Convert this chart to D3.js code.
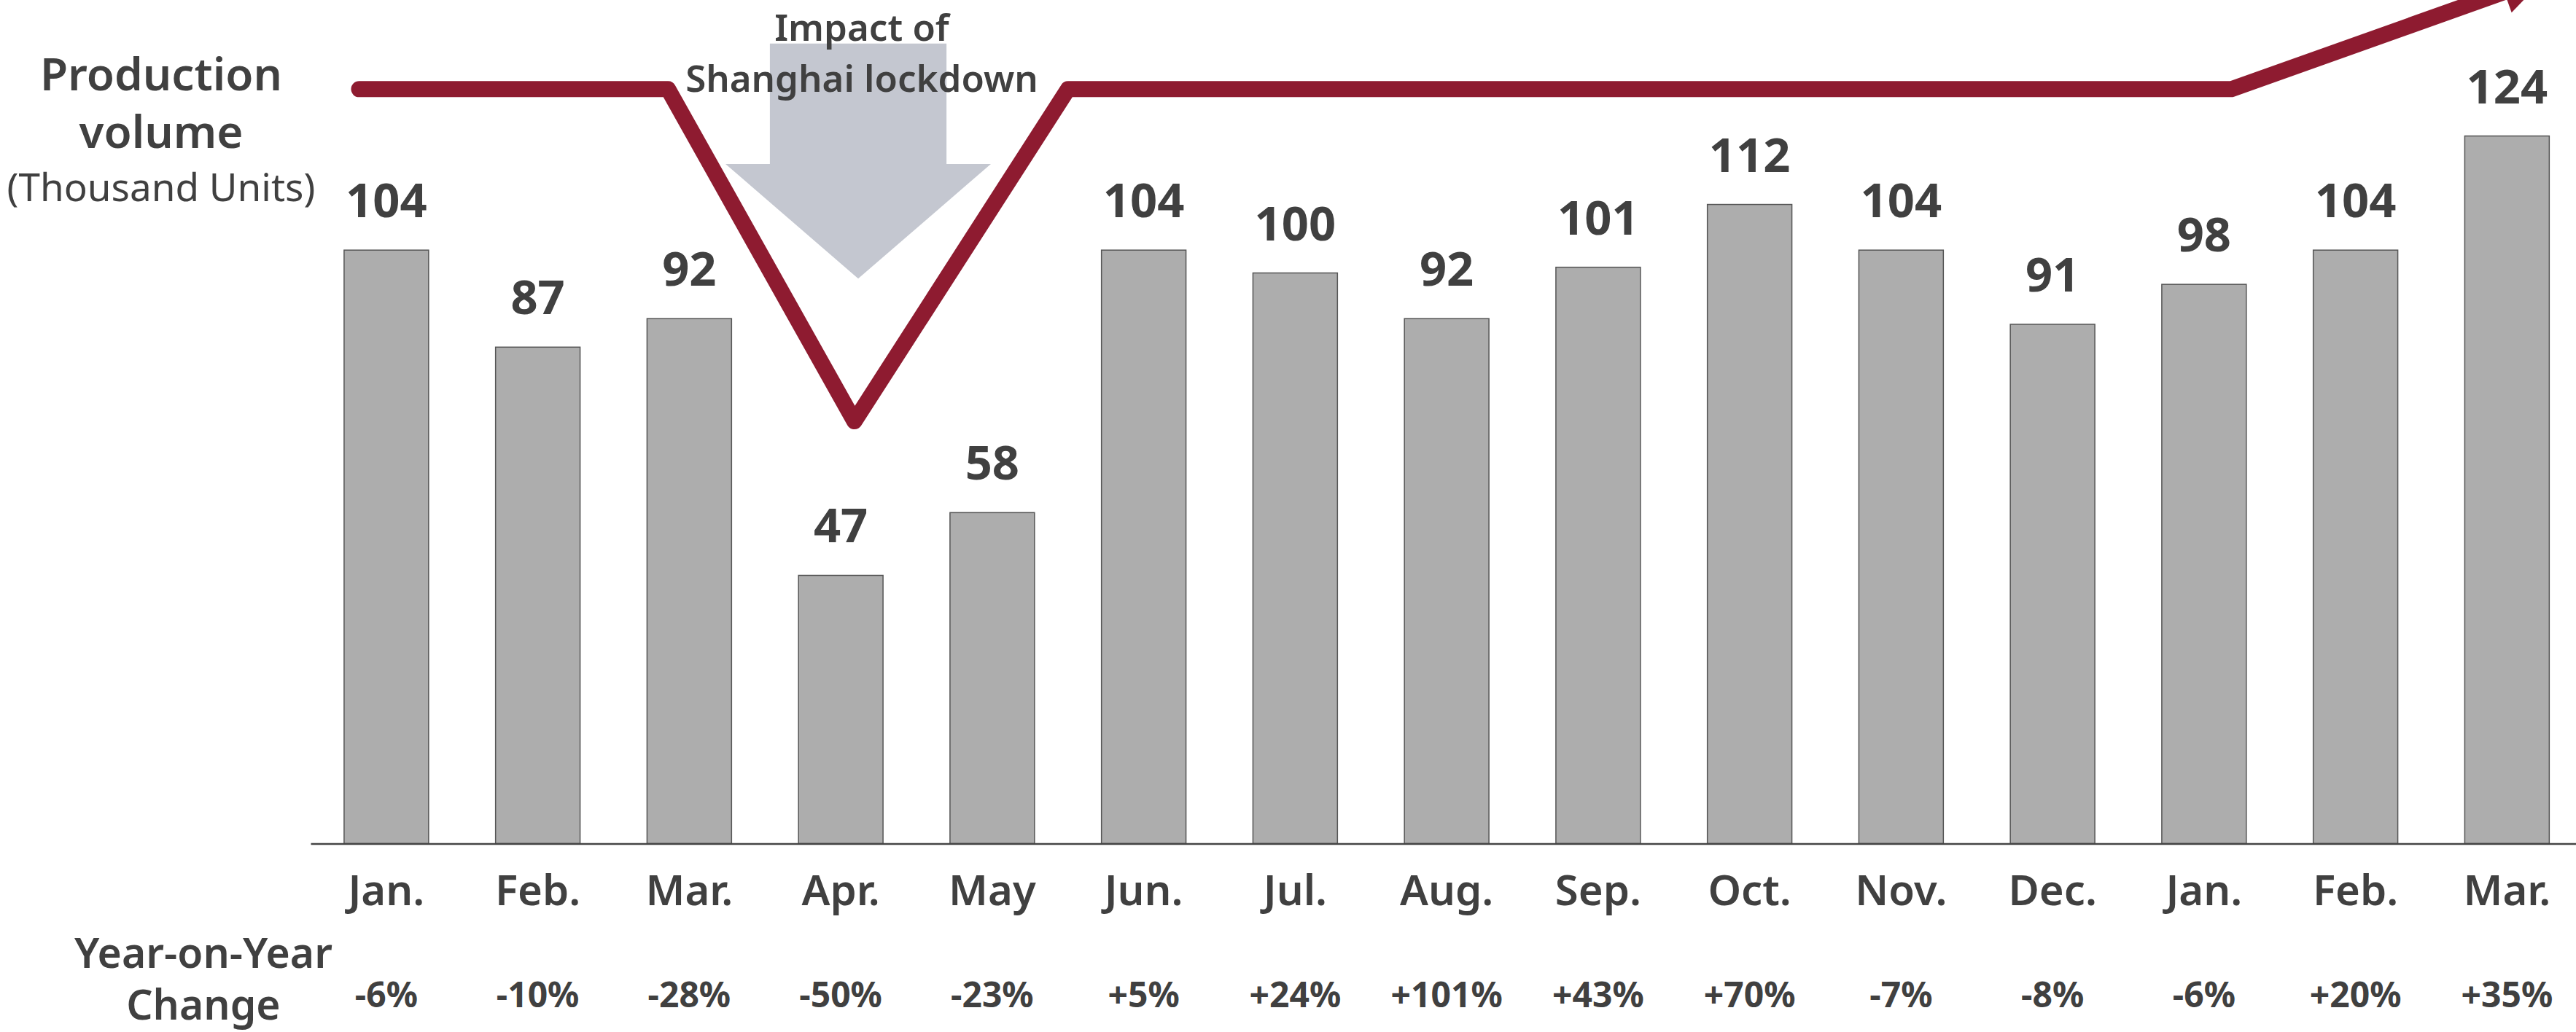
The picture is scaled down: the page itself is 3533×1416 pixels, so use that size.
<!DOCTYPE html>
<html><head><meta charset="utf-8">
<script src="https://cdn.jsdelivr.net/npm/d3@7"></script>
<style>
html,body{margin:0;padding:0;background:#fff;}
svg{display:block;}
text{font-family:"Noto Sans","Open Sans",sans-serif;fill:#404040;}
</style></head>
<body>
<svg id="chart" width="3533" height="1416"></svg>
<script>
// ---- data ----
const months = ["Jan.","Feb.","Mar.","Apr.","May","Jun.","Jul.","Aug.","Sep.","Oct.","Nov.","Dec.","Jan.","Feb.","Mar."];
const production = [104,87,92,47,58,104,100,92,101,112,104,91,98,104,124];
const yoyChange = ["-6%","-10%","-28%","-50%","-23%","+5%","+24%","+101%","+43%","+70%","-7%","-8%","-6%","+20%","+35%"];
// trend annotation: x = position in month steps from first bar, y = value units
const trendIdx = [-0.18, 1.86, 3.09, 4.50, 12.18, 14.254];
const trendVal = [132.2, 132.2, 74.0, 132.2, 132.2, 151.8];
// lockdown arrow: center idx, shaft/head half-width (steps), top / shaft-bottom / tip (value units)
const lockArrowIdx = 3.115, lockShaftHalf = 0.583, lockHeadHalf = 0.876;
const lockArrowVals = [140.2, 119.1, 99.0];
const titleLines = ["Production", "volume"];
const unitLabel = "(Thousand Units)";
const yoyTitle = ["Year-on-Year", "Change"];
const lockLabel = ["Impact of", "Shanghai lockdown"];

const svg = d3.select("#chart");
const keys = months.map((m,i)=>i);
const x = d3.scaleBand().domain(keys).range([426, 3542.25]).paddingInner(0.442).paddingOuter(0.221);
const y = d3.scaleLinear().domain([0, 140]).range([1157.5, 1157.5 - 140*7.83]);
const step = x.step();
const cx = i => x(0) + x.bandwidth()/2 + i*step;

// lockdown arrow (behind)
const [aTop, aMid, aTip] = lockArrowVals.map(v=>y(v));
const ac = cx(lockArrowIdx);
svg.append("path")
  .attr("d", d3.line()([
    [ac - lockShaftHalf*step, aTop],[ac + lockShaftHalf*step, aTop],
    [ac + lockShaftHalf*step, aMid],[ac + lockHeadHalf*step, aMid],
    [ac, aTip],
    [ac - lockHeadHalf*step, aMid],[ac - lockShaftHalf*step, aMid]
  ]) + "Z")
  .attr("fill", "#c4c7d0");

// bars
svg.append("g").selectAll("rect").data(production).join("rect")
  .attr("x", (d,i)=>x(i))
  .attr("y", d=>y(d))
  .attr("width", x.bandwidth())
  .attr("height", d=>y(0)-y(d))
  .attr("fill", "#adadad")
  .attr("stroke", "#555")
  .attr("stroke-width", 1.5);

// value labels
svg.append("g").selectAll("text").data(production).join("text")
  .attr("x", (d,i)=>x(i)+x.bandwidth()/2)
  .attr("y", d=>y(d)-45)
  .attr("text-anchor","middle")
  .attr("font-size", 65)
  .attr("font-weight", 700)
  .text(d=>d);

// x axis
const ax = svg.append("g").attr("transform", `translate(0,${y(0)})`)
  .call(d3.axisBottom(x).tickSize(0).tickSizeOuter(0).tickFormat(i=>months[i]));
ax.select(".domain").attr("stroke","#444").attr("stroke-width",2.5);
ax.selectAll(".tick text")
  .attr("y", 84).attr("dy", 0)
  .attr("font-size", 58)
  .attr("font-weight", 600)
  .attr("font-family", "'Noto Sans','Open Sans',sans-serif")
  .attr("fill", "#404040");

// YoY labels
svg.append("g").selectAll("text").data(yoyChange).join("text")
  .attr("x", (d,i)=>x(i)+x.bandwidth()/2)
  .attr("y", 1382)
  .attr("text-anchor","middle")
  .attr("font-size", 48)
  .attr("font-weight", 700)
  .text(d=>d);

// trend line
const pts = trendIdx.map((t,i)=>[cx(t), y(trendVal[i])]);
const n = pts.length;
const tip = pts[n-1], prev = pts[n-2];
const dx = tip[0]-prev[0], dy = tip[1]-prev[1], len = Math.hypot(dx,dy);
const ux = dx/len, uy = dy/len;
const headLen = 60, headHalf = 30;
const base = [tip[0]-ux*headLen, tip[1]-uy*headLen];
const linePts = pts.slice(0, n-1).concat([base]);
svg.append("path")
  .attr("d", d3.line()(linePts))
  .attr("fill","none")
  .attr("stroke","#8e1b30")
  .attr("stroke-width",22)
  .attr("stroke-linejoin","round")
  .attr("stroke-linecap","round");
svg.append("path")
  .attr("d", d3.line()([
    [base[0]-uy*headHalf, base[1]+ux*headHalf],
    tip,
    [base[0]+uy*headHalf, base[1]-ux*headHalf]
  ])+"Z")
  .attr("fill","#8e1b30");

// lockdown label
svg.append("g").selectAll("text").data(lockLabel).join("text")
  .attr("x", 1182)
  .attr("y", (d,i)=>[56,126][i])
  .attr("text-anchor","middle")
  .attr("font-size", 51)
  .attr("font-weight", 600)
  .text(d=>d);

// left title
svg.append("g").selectAll("text").data(titleLines).join("text")
  .attr("x", 221)
  .attr("y", (d,i)=>[124,203][i])
  .attr("text-anchor","middle")
  .attr("font-size", 62)
  .attr("font-weight", 600)
  .text(d=>d);
svg.append("text")
  .attr("x", 221).attr("y", 276)
  .attr("text-anchor","middle")
  .attr("font-size", 53)
  .attr("font-weight", 400)
  .text(unitLabel);

// YoY title
svg.append("g").selectAll("text").data(yoyTitle).join("text")
  .attr("x", 279)
  .attr("y", (d,i)=>[1328,1399][i])
  .attr("text-anchor","middle")
  .attr("font-size", 57)
  .attr("font-weight", 600)
  .text(d=>d);
</script>
</body></html>
